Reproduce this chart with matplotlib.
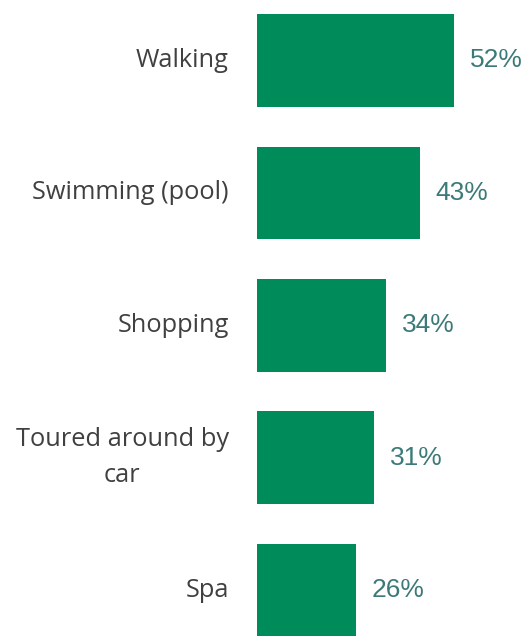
import matplotlib.pyplot as plt

categories = ['Walking', 'Swimming (pool)', 'Shopping', 'Toured around by\ncar', 'Spa']
values = [52, 43, 34, 31, 26]

fig = plt.figure(figsize=(5.26, 6.38), dpi=100)
ax = fig.add_axes([257 / 526, 0, 1 - 257 / 526, 1])

pos = list(range(len(categories)))
ax.barh(pos, values, height=0.70, color='#008C5A')

for p, v, c in zip(pos, values, categories):
    ax.text(v + 4.2, p, f'{v}%', va='center', ha='left', fontsize=19,
            color='#3B7A78', family='Liberation Sans')
    ax.text(-7.4, p, c, va='center', ha='right', fontsize=18.3,
            color='#404040', family='Open Sans', multialignment='center',
            linespacing=1.6)

ax.set_xlim(0, 71)
ax.set_ylim(4.3625, -0.457)
ax.axis('off')

fig.savefig('out.png', dpi=100)
